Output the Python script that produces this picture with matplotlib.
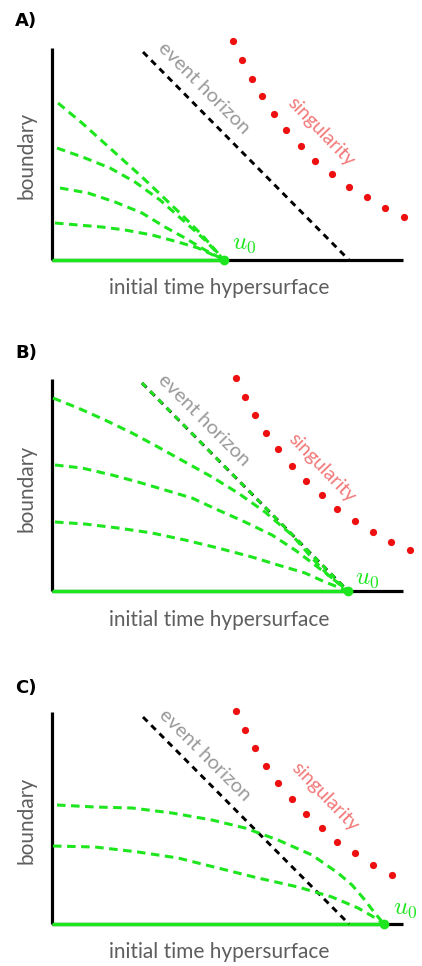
import matplotlib
matplotlib.use('Agg')
import matplotlib.pyplot as plt

# local coordinates per panel: x from the boundary line, y above the initial surface (1 unit ~ 1 px)
labels = ['A)', 'B)', 'C)']
axis_height = 212
axis_length = 351

u0_x = [172, 296, 332]

horizon_a = ([91, 297], [208, 0])
horizon_b = ([90, 296], [208, 0])
horizon_c = ([91, 297], [207, 0])

sing_a_x = [181, 190, 200, 210, 222, 234, 249, 263, 280, 297, 315, 333, 352]
sing_a_y = [219, 200, 181, 164, 146, 130, 114, 99, 86, 73, 63, 52, 43]
sing_b_x = [184, 193, 203, 214, 226, 240, 254, 270, 285, 303, 321, 339, 358]
sing_b_y = [213, 194, 176, 158, 142, 125, 110, 96, 82, 70, 59, 49, 41]
sing_c_x = [184, 193, 203, 214, 226, 240, 254, 270, 285, 303, 321, 340]
sing_c_y = [213, 194, 176, 158, 141, 125, 110, 96, 82, 71, 59, 49]

curves_a = [
    ([6, 30, 50, 70, 90, 110, 130, 150, 172], [157, 137, 119, 101, 83, 64, 45, 25, 0]),
    ([5, 33, 58, 83, 108, 133, 153, 172], [112, 102, 92, 78, 60, 38, 20, 0]),
    ([8, 36, 63, 90, 113, 133, 153, 172], [72, 67, 58, 47, 33, 22, 10, 0]),
    ([3, 26, 50, 73, 100, 126, 146, 172], [37, 35, 33, 30, 25, 18, 12, 0]),
]
curves_b = [
    ([1, 26, 53, 80, 106, 133, 160, 186, 213, 240, 260, 276, 296],
     [193, 183, 171, 158, 144, 129, 114, 98, 79, 56, 33, 16, 0]),
    ([3, 30, 60, 86, 113, 140, 166, 193, 220, 243, 263, 280, 296],
     [126, 123, 116, 109, 101, 93, 81, 69, 56, 41, 26, 13, 0]),
    ([3, 33, 66, 100, 133, 166, 200, 226, 253, 273, 296],
     [69, 67, 63, 58, 51, 43, 34, 26, 18, 9, 0]),
]
curves_c = [
    ([5, 43, 80, 120, 160, 193, 226, 260, 286, 300, 312, 322, 332],
     [119, 117, 116, 111, 104, 96, 84, 69, 51, 39, 25, 12, 0]),
    ([1, 43, 86, 126, 166, 206, 246, 280, 306, 320, 332],
     [78, 77, 72, 66, 56, 46, 37, 27, 16, 8, 0]),
]

GREEN = '#1ee61e'
RED = '#ee1010'
GRAY = '#5e5e5e'
LIGHT_GRAY = '#9a9a9a'
PINK = '#f27878'

plt.rcParams['font.family'] = ['Lato', 'DejaVu Sans']
plt.rcParams['mathtext.fontset'] = 'cm'

fig = plt.figure(figsize=(4.22, 9.66), dpi=100)
W, H = 422, 966


def make_axes(top_px, bottom_px, origin_px):
    ax = fig.add_axes([0, 1 - bottom_px / H, 1, (bottom_px - top_px) / H])
    ax.set_xlim(-52, W - 52)
    ax.set_ylim(origin_px - bottom_px, origin_px - top_px)
    ax.axis('off')
    return ax


def draw_panel(ax, label, u0, horizon, sx, sy, curves, texts, overlay=False):
    ax.plot([0, 0], [0, axis_height], color='black', lw=2.3, solid_capstyle='butt')
    ax.plot([0, axis_length], [0, 0], color='black', lw=2.3, solid_capstyle='butt')
    ax.plot([0, u0], [0, 0], color=GREEN, lw=2.5, solid_capstyle='butt')
    ax.plot(*horizon, color='black', lw=2.1, dashes=(2.2, 1.8))
    if overlay:
        ax.plot(*horizon, color=GREEN, lw=2.1, dashes=(2.0, 2.0), dash_capstyle='butt')
    for cx, cy in curves:
        ax.plot(cx, cy, color=GREEN, lw=2.2, dashes=(2.8, 1.8))
    ax.plot(sx, sy, 'o', color=RED, ms=5.2, mec='none')
    ax.plot([u0], [0], 'o', color=GREEN, ms=7, mec='none')

    ax.text(-37, texts['label'], label, fontsize=13, fontweight='bold', ha='left', va='center',
            family=['DejaVu Sans'])
    ax.text(-26, texts['boundary'], 'boundary', fontsize=15, color=GRAY, rotation=90,
            ha='center', va='center')
    ax.text(167, texts['initial'], 'initial time hypersurface', fontsize=15, color=GRAY,
            ha='center', va='center')
    ax.text(texts['horizon'][0], texts['horizon'][1], 'event horizon', fontsize=14.5,
            color=LIGHT_GRAY, rotation=-45, ha='center', va='center', rotation_mode='anchor')
    ax.text(texts['sing'][0], texts['sing'][1], 'singularity', fontsize=14,
            color=PINK, rotation=-46, ha='center', va='center', rotation_mode='anchor')
    ax.text(texts['u0'][0], texts['u0'][1], '$u_0$', fontsize=18, color=GREEN,
            ha='center', va='center')


ax_a = make_axes(0, 310, 260)
draw_panel(ax_a, labels[0], u0_x[0], horizon_a, sing_a_x, sing_a_y, curves_a,
           {'label': 239, 'boundary': 105, 'initial': -28, 'horizon': (152, 172),
            'sing': (269, 128), 'u0': (192, 17)})

ax_b = make_axes(310, 640, 591)
draw_panel(ax_b, labels[1], u0_x[1], horizon_b, sing_b_x, sing_b_y, curves_b,
           {'label': 238, 'boundary': 103, 'initial': -29, 'horizon': (152, 171),
            'sing': (270, 123), 'u0': (315, 13)}, overlay=True)

ax_c = make_axes(640, 966, 924)
draw_panel(ax_c, labels[2], u0_x[2], horizon_c, sing_c_x, sing_c_y, curves_c,
           {'label': 236, 'boundary': 104, 'initial': -28, 'horizon': (153, 169),
            'sing': (273, 127), 'u0': (353, 16)})

plt.savefig('out.png', dpi=100)
